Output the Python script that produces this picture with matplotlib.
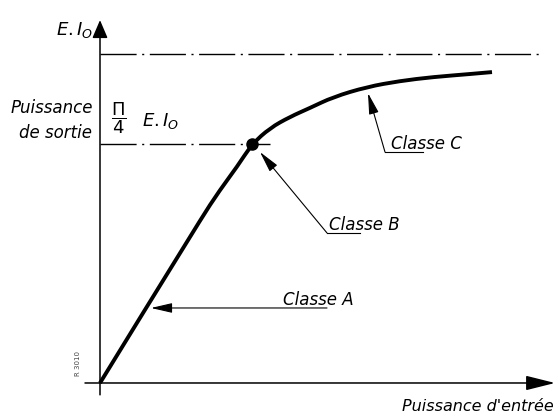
import numpy as np
import matplotlib
matplotlib.use("Agg")
import matplotlib.pyplot as plt
from matplotlib.path import Path
from matplotlib.patches import PathPatch

# Caractéristique puissance de sortie / puissance d'entrée (classes A, B, C)
# y exprimé en fraction de E.I0
puissance_entree = [0.0, 1.00, 1.20, 1.37, 1.52, 1.70, 1.90, 2.10, 2.33,
                    2.67, 3.00, 3.33, 3.70, 3.92]
puissance_sortie = [0.0, 0.495, 0.587, 0.657, 0.726, 0.775, 0.809, 0.836,
                    0.869, 0.900, 0.918, 0.930, 0.939, 0.945]

point_B = (1.52, 0.726)    # passage classe A -> classe B
niveau_max = 1.0           # E.I0
niveau_B = 0.726           # pi/4 E.I0

plt.rcParams['font.family'] = ['DejaVu Sans']
fig = plt.figure(figsize=(5.59, 4.15), dpi=100)
ax = fig.add_axes([0, 0, 1, 1])
ax.set_xlim(-1.0, 4.59)
ax.set_ylim(-0.0973, 1.1641)
ax.axis('off')

txt = dict(style='italic', fontsize=12, color='black')

# axes avec flèches
ax.annotate('', xy=(4.55, 0), xytext=(-0.15, 0),
            arrowprops=dict(arrowstyle='-|>,head_length=1.8,head_width=0.45',
                            mutation_scale=10, lw=1.1, color='black',
                            shrinkA=0, shrinkB=0))
ax.annotate('', xy=(0, 1.103), xytext=(0, -0.036),
            arrowprops=dict(arrowstyle='-|>,head_length=1.1,head_width=0.47',
                            mutation_scale=10, lw=1.1, color='black',
                            shrinkA=0, shrinkB=0))

# niveaux en trait mixte
ax.plot([0, 4.40], [niveau_max, niveau_max], color='black', lw=1,
        linestyle=(0, (26, 4, 1.5, 4)))
ax.plot([0, 1.70], [niveau_B, niveau_B], color='black', lw=1,
        linestyle=(0, (26, 4, 1.5, 4)))

# courbe lissée (B-spline quadratique sur les points relevés)
pts = np.column_stack([puissance_entree, puissance_sortie])
verts = [pts[0]]
codes = [Path.MOVETO]
for i in range(1, len(pts) - 1):
    fin = pts[i + 1] if i == len(pts) - 2 else (pts[i] + pts[i + 1]) / 2
    verts += [pts[i], fin]
    codes += [Path.CURVE3, Path.CURVE3]
ax.add_patch(PathPatch(Path(verts, codes), facecolor='none',
                       edgecolor='black', lw=2.8, capstyle='butt'))
ax.plot(*point_B, 'o', color='black', markersize=8)

# repères des classes
def repere(texte, pointe, coude, fin, pos_txt):
    ax.annotate('', xy=pointe, xytext=coude,
                arrowprops=dict(arrowstyle='-|>,head_length=1.3,head_width=0.3',
                                mutation_scale=10, lw=0.8, color='black',
                                shrinkA=0, shrinkB=0))
    ax.plot([coude[0], fin[0]], [coude[1], fin[1]], color='black', lw=0.8)
    ax.text(pos_txt[0], pos_txt[1], texte, ha='left', va='baseline', **txt)

repere('Classe A', (0.51, 0.228), (2.27, 0.228), (2.27, 0.228), (1.83, 0.237))
repere('Classe B', (1.60, 0.702), (2.27, 0.456), (2.60, 0.456), (2.29, 0.465))
repere('Classe C', (2.68, 0.881), (2.85, 0.702), (3.23, 0.702), (2.91, 0.711))

# étiquettes
ax.text(-0.07, 1.072, r'$E.I_O$', ha='right', va='center', fontsize=13,
        math_fontfamily='dejavusans')
ax.text(-0.07, 0.836, 'Puissance', ha='right', va='center', **txt)
ax.text(-0.08, 0.733, 'de sortie', ha='right', va='bottom', **txt)
ax.text(0.11, 0.805, r'$\dfrac{\Pi}{4}$', ha='left', va='center',
        fontsize=13, math_fontfamily='dejavusans')
ax.text(0.42, 0.795, r'$E.I_O$', ha='left', va='center', fontsize=13,
        math_fontfamily='dejavusans')
ax.text(4.54, -0.05, "Puissance d'entrée", ha='right', va='top',
        style='italic', fontsize=11.5)
ax.text(-0.22, 0.06, 'R 3010', rotation=90, ha='center', va='center',
        fontsize=5, color='#444444')

fig.savefig('out.png', dpi=100)
